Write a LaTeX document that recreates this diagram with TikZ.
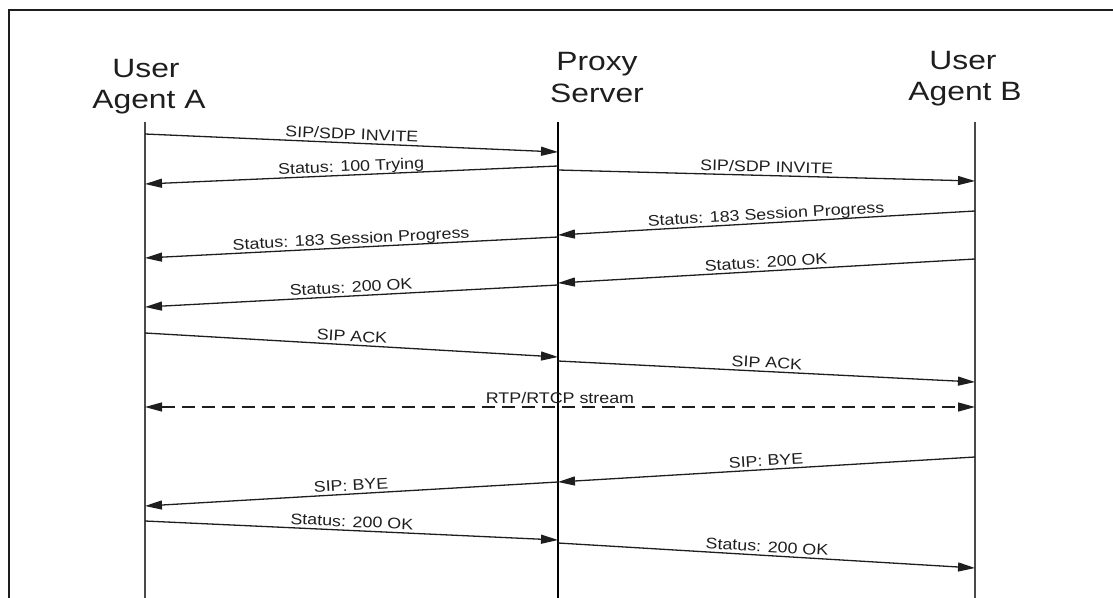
\documentclass[tikz,border=0pt]{standalone}
\usepackage{fontspec}
\usetikzlibrary{arrows.meta}
\newfontfamily\headfont[FakeStretch=1.2]{Liberation Sans}
\newfontfamily\labfont[FakeStretch=1.16]{Liberation Sans}
\definecolor{ink}{HTML}{1E1E1E}
\definecolor{lifegray}{HTML}{4A4A4A}
\tikzset{
  head/.style={font=\headfont\fontsize{26.5}{30}\selectfont, text=ink, anchor=base, inner sep=0pt},
  lifeA/.style={draw=lifegray, line width=1.8pt},
  lifeP/.style={draw=black, line width=1.4pt},
  msg/.style={draw=ink, line width=1.3pt, -{Triangle[length=17pt,width=9pt]}},
  stream/.style={draw=ink, line width=1.3pt, dash pattern=on 13pt off 7pt,
     {Triangle[length=17pt,width=9pt]}-{Triangle[length=17pt,width=9pt]}},
  lab/.style={font=\labfont\fontsize{15.4}{18}\selectfont, text=ink, midway, sloped, above,
     inner xsep=0pt, inner ysep=3.5pt, outer sep=0pt, text depth=0pt},
  frameline/.style={draw=ink, line width=1.5pt}
}
\begin{document}
\begin{tikzpicture}[x=1pt, y=-1pt]
\useasboundingbox (0,0) rectangle (1113,597);
\clip (0,0) rectangle (1113,597);
% frame
\coordinate (fbl) at (9,610);
\coordinate (ftl) at (9,10);
\coordinate (ftr) at (1125,10);
\draw[frameline] (fbl) -- (ftl) -- (ftr);
% headers
\node[head] (hA1) at (146,77) {User};
\node[head] (hA2) at (149,108) {Agent A};
\node[head] (hP1) at (597,70) {Proxy};
\node[head] (hP2) at (597,102) {Server};
\node[head] (hB1) at (963,69) {User};
\node[head] (hB2) at (965,100) {Agent B};
% lifelines
\coordinate (At) at (145,122); \coordinate (Ab) at (145,610);
\coordinate (Pt) at (558,122); \coordinate (Pb) at (558,610);
\coordinate (Bt) at (975,122); \coordinate (Bb) at (975,610);
\draw[lifeA] (At) -- (Ab);
\draw[lifeP] (Pt) -- (Pb);
\draw[lifeA] (Bt) -- (Bb);
% message end points
\coordinate (a1) at (145,134); \coordinate (p1) at (558,152);
\coordinate (p2) at (558,166); \coordinate (a2) at (145,184);
\coordinate (p3) at (558,170); \coordinate (b3) at (975,181);
\coordinate (b4) at (975,211); \coordinate (p4) at (558,235);
\coordinate (p5) at (558,237); \coordinate (a5) at (145,258);
\coordinate (b6) at (975,259); \coordinate (p6) at (558,283);
\coordinate (p7) at (558,285); \coordinate (a7) at (145,307);
\coordinate (a8) at (145,333); \coordinate (p8) at (558,357);
\coordinate (p9) at (558,361); \coordinate (b9) at (975,382);
\coordinate (a10) at (145,407); \coordinate (b10) at (975,407);
\coordinate (b11) at (975,457); \coordinate (p11) at (558,482);
\coordinate (p12) at (558,482); \coordinate (a12) at (145,506);
\coordinate (a13) at (145,521); \coordinate (p13) at (558,540);
\coordinate (p14) at (558,543); \coordinate (b14) at (975,568);
% messages
\draw[msg] (a1) -- node[lab] (l1) {SIP/SDP INVITE} (p1);
\draw[msg] (p2) -- node[lab] (l2) {Status: 100 Trying} (a2);
\draw[msg] (p3) -- node[lab] (l3) {SIP/SDP INVITE} (b3);
\draw[msg] (b4) -- node[lab] (l4) {Status: 183 Session Progress} (p4);
\draw[msg] (p5) -- node[lab] (l5) {Status: 183 Session Progress} (a5);
\draw[msg] (b6) -- node[lab] (l6) {Status: 200 OK} (p6);
\draw[msg] (p7) -- node[lab] (l7) {Status: 200 OK} (a7);
\draw[msg] (a8) -- node[lab] (l8) {SIP ACK} (p8);
\draw[msg] (p9) -- node[lab] (l9) {SIP ACK} (b9);
\draw[stream] (a10) -- node[lab] (l10) {RTP/RTCP stream} (b10);
\draw[msg] (b11) -- node[lab] (l11) {SIP: BYE} (p11);
\draw[msg] (p12) -- node[lab] (l12) {SIP: BYE} (a12);
\draw[msg] (a13) -- node[lab] (l13) {Status: 200 OK} (p13);
\draw[msg] (p14) -- node[lab] (l14) {Status: 200 OK} (b14);
\end{tikzpicture}
\end{document}
